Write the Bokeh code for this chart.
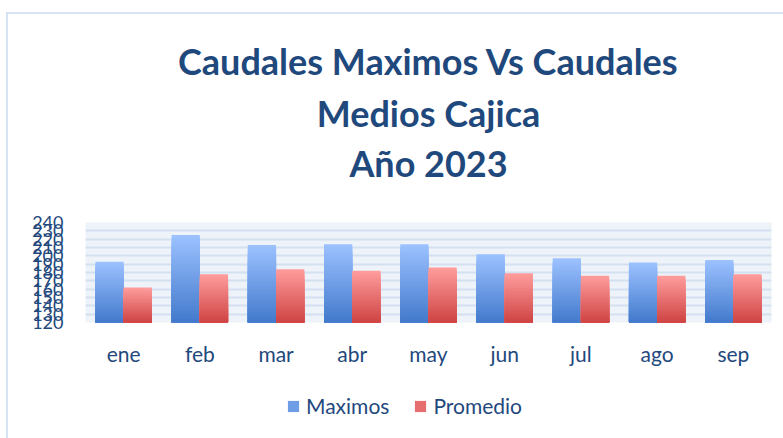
from bokeh.plotting import figure
from bokeh.layouts import column
from bokeh.models import (ColumnDataSource, FactorRange, FixedTicker, Title,
                          Legend, LegendItem, Range1d)
from bokeh.transform import dodge
from bokeh.embed import file_html
from bokeh.resources import INLINE

# ---- data ----
meses = ["ene", "feb", "mar", "abr", "may", "jun", "jul", "ago", "sep"]
maximos = [193, 225, 213, 214, 214, 202, 197, 192, 195]
promedio = [162, 178, 184, 182, 186, 179, 176, 176, 178]
series = ["Maximos", "Promedio"]
y_ticks = [120, 130, 140, 150, 160, 170, 180, 190, 200, 210, 220, 230, 240]
titulo = ["Caudales Maximos Vs Caudales", "Medios Cajica", "Año 2023"]

# ---- styles ----
FONT = "Lato"
TXT = "#1f497d"
BORDER = "#d6e3f2"
grad_blue = ("#4379cc", "#9cc2ff")   # bottom, top
grad_red = ("#cf4343", "#ff9d9d")
N = 30


def hex2rgb(h):
    h = h.lstrip("#")
    return tuple(int(h[i:i + 2], 16) for i in (0, 2, 4))


def lerp(c1, c2, t):
    a, b = hex2rgb(c1), hex2rgb(c2)
    return "#%02x%02x%02x" % tuple(round(a[i] + (b[i] - a[i]) * t) for i in range(3))


def gradient_source(vals, grad, base):
    xs, tops, cols = [], [], []
    for k in range(N, 0, -1):
        t = k / N
        for m, v in zip(meses, vals):
            xs.append(m)
            tops.append(base + (v - base) * t)
            cols.append(lerp(grad[0], grad[1], (k - 0.5) / N))
    return ColumnDataSource(dict(x=xs, top=tops, color=cols))


base = y_ticks[0]
p = figure(x_range=FactorRange(factors=meses),
           y_range=Range1d(y_ticks[0], y_ticks[-1]),
           width=783, height=380,
           output_backend="svg", toolbar_location=None,
           min_border_left=85, min_border_right=12, min_border_top=222,
           min_border_bottom=58)

# light chart-area border (top and left edges)
p.border_fill_alpha = 0
p.styles = {
    "background-color": "white",
    "background-image": f"linear-gradient({BORDER}, {BORDER}), linear-gradient({BORDER}, {BORDER})",
    "background-repeat": "no-repeat",
    "background-size": "100% 2px, 2px 100%",
    "background-position": "7px 12px, 6px 12px",
}

title_kw = dict(text_font=FONT, text_font_style="bold", text_font_size="36px",
                text_color=TXT, align="center", offset=-24)
p.title.text = titulo[0]
for k, v in title_kw.items():
    setattr(p.title, k, v)
p.title.standoff = 12
p.title.background_fill_alpha = 0
# blank spacer between the plot frame and the last title line
p.add_layout(Title(text=" ", standoff=0, text_font=FONT, text_font_size="26px"), "above")
p.add_layout(Title(text=titulo[2], standoff=8, **title_kw), "above")
p.add_layout(Title(text=titulo[1], standoff=0, **title_kw), "above")

p.background_fill_color = "#eef3f9"
p.outline_line_color = None

w = 0.37
off = 0.185
src_b = gradient_source(maximos, grad_blue, base)
src_r = gradient_source(promedio, grad_red, base)
p.vbar(x=dodge("x", -off, range=p.x_range), top="top", bottom=base,
       width=w, source=src_b, fill_color="color", line_color=None)
p.vbar(x=dodge("x", off, range=p.x_range), top="top", bottom=base,
       width=w, source=src_r, fill_color="color", line_color=None)

p.yaxis.ticker = FixedTicker(ticks=y_ticks)
p.yaxis.major_label_text_font = FONT
p.yaxis.major_label_text_font_size = "18px"
p.yaxis.major_label_text_color = TXT
p.yaxis.axis_line_color = None
p.yaxis.major_tick_line_color = None
p.yaxis.minor_tick_line_color = None
p.yaxis.major_tick_out = 0
p.yaxis.major_label_standoff = 22

p.xaxis.major_label_text_font = FONT
p.xaxis.major_label_text_font_size = "21px"
p.xaxis.major_label_text_color = TXT
p.xaxis.axis_line_color = None
p.xaxis.major_tick_line_color = None
p.xaxis.major_tick_out = 0
p.xaxis.major_label_standoff = 18

p.xgrid.grid_line_color = None
p.ygrid.grid_line_color = "#d2e0f0"
p.ygrid.grid_line_width = 2

# ---- legend strip below the chart ----
lg = figure(x_range=p.x_range, y_range=Range1d(0, 1), width=783, height=58,
            x_axis_type=None, y_axis_type=None,
            output_backend="svg", toolbar_location=None,
            min_border=0, min_border_left=0, min_border_right=0,
            min_border_top=0, min_border_bottom=0)
lg.border_fill_alpha = 0
lg.background_fill_alpha = 0
lg.outline_line_color = None
lg.grid.grid_line_color = None
lg.styles = {
    "background-color": "white",
    "background-image": f"linear-gradient({BORDER}, {BORDER})",
    "background-repeat": "no-repeat",
    "background-size": "2px 100%",
    "background-position": "6px 0px",
}
# legend proxies (zero width, outside the strip's range: only the legend shows them)
lb = lg.vbar(x=dodge("x", -off, range=lg.x_range), top="top", bottom=base,
             width=0, source=src_b, fill_color="color", line_color=None)
lr = lg.vbar(x=dodge("x", off, range=lg.x_range), top="top", bottom=base,
             width=0, source=src_r, fill_color="color", line_color=None)
mid = (N // 2) * len(meses)
legend = Legend(items=[LegendItem(label=series[0], renderers=[lb], index=mid),
                       LegendItem(label=series[1], renderers=[lr], index=mid)],
                orientation="horizontal", location=(201, 20),
                label_text_font=FONT, label_text_font_size="21px",
                label_text_color=TXT, glyph_width=14, glyph_height=14,
                label_standoff=6, spacing=24, border_line_color=None,
                background_fill_alpha=0, margin=0, padding=0)
lg.add_layout(legend, "center")

open("out.html", "w").write(file_html(column(p, lg, spacing=0), INLINE))
